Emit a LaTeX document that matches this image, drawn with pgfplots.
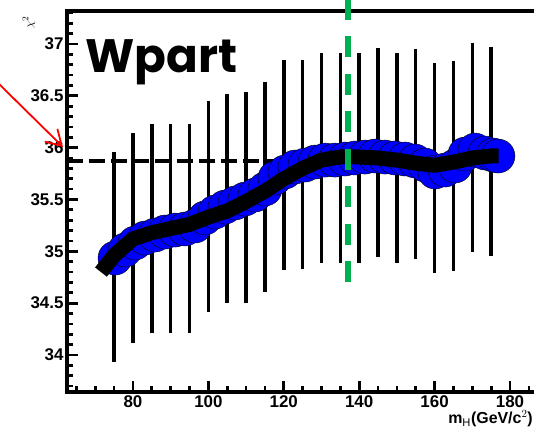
\documentclass[border=0pt]{standalone}
\usepackage{fontspec}
\setmainfont{Liberation Sans}
\newfontfamily\popfont{Poppins}
\usepackage{pgfplots}
\usepackage{pgfplotstable}
\pgfplotsset{compat=1.18}
\usetikzlibrary{arrows.meta}
\definecolor{rootgreen}{RGB}{0,176,80}

\pgfplotstableread{
x lo hi
75 33.937 35.958
80 34.111 36.141
85 34.212 36.228
90 34.212 36.228
95 34.212 36.228
100 34.415 36.449
105 34.501 36.517
110 34.501 36.536
115 34.608 36.632
120 34.820 36.844
125 34.825 36.850
130 34.887 36.912
135 34.887 36.912
140 34.887 36.912
145 34.945 36.960
150 34.887 36.912
155 34.926 36.951
160 34.791 36.816
165 34.810 36.835
170 34.993 37.009
175 34.955 36.970
}\tabbars

\pgfplotstableread{
x y
75.23 34.935
77.88 35.013
80.54 35.080
83.19 35.128
85.84 35.157
88.49 35.186
91.15 35.205
93.80 35.215
96.45 35.244
99.10 35.322
101.76 35.379
104.41 35.427
107.06 35.466
109.71 35.504
112.37 35.543
115.02 35.601
117.67 35.707
120.32 35.765
122.98 35.813
125.63 35.832
128.28 35.861
130.93 35.880
133.59 35.880
136.24 35.890
138.89 35.900
141.54 35.909
144.20 35.919
146.85 35.909
149.50 35.900
152.15 35.890
154.81 35.871
157.46 35.832
160.11 35.765
162.76 35.784
165.42 35.823
168.07 35.938
170.72 35.977
173.37 35.948
175.50 35.929
176.80 35.919
}\tabblue

\pgfplotstableread{
x y
71.5 34.80
75 34.96
80 35.12
85 35.18
90 35.22
95 35.26
100 35.33
105 35.39
110 35.48
115 35.58
120 35.70
125 35.80
130 35.88
135 35.91
140 35.91
145 35.90
150 35.88
155 35.85
160 35.83
165 35.86
170 35.90
175 35.92
177 35.92
}\tabcurve

\begin{document}
\begin{tikzpicture}
\begin{axis}[
  scale only axis, width=480.7bp, height=381bp,
  at={(67bp,37bp)}, anchor=south west,
  xmin=62.5, xmax=190, ymin=33.643, ymax=37.318,
  tick pos=left,
  xtick={80,100,...,180},
  ytick={34,34.5,35,35.5,36,36.5,37},
  yticklabels={34,34.5,35,35.5,36,36.5,37},
  minor xtick={65,70,...,190},
  minor ytick={33.7,33.8,...,37.3},
  major tick length=11bp, minor tick length=5.5bp,
  every tick/.style={black, line width=2.7bp},
  axis line style={line width=3.3bp},
  ticklabel style={font=\bfseries\fontsize{17}{17}\selectfont},
  /pgf/number format/assume math mode=true,
  clip=false, clip mode=individual,
]
\draw[black, line width=4.5bp, dash pattern=on 16bp off 6bp] (axis cs:62.5,35.87) -- (axis cs:137,35.87);
\addplot[draw=none, mark=none, forget plot,
  error bars/.cd, y dir=plus, y explicit, error mark=none,
  error bar style={draw=black, line width=3.5bp}]
  table[x=x, y=lo, y error expr=\thisrow{hi}-\thisrow{lo}] {\tabbars};
\addplot[only marks, mark=*, mark size=17bp, mark options={draw=none, fill=blue}] table[x=x,y=y] {\tabblue};
\addplot[black, line width=15bp, line join=round, mark=none] table[x=x,y=y] {\tabcurve};
\draw[rootgreen, line width=6bp, dash pattern=on 21bp off 16.5bp] (axis cs:137,34.70) -- (axis cs:137,37.45);
\draw[red, line width=1.8bp, -{Straight Barb[length=15bp,width=18bp]}] (axis cs:43.4,36.652) -- (axis cs:61.44,36.006);
\node[anchor=base west, inner sep=0pt] at (axis cs:67.27,36.729) {\popfont\bfseries\fontsize{47}{47}\selectfont Wpart};
\node[rotate=90, inner sep=0pt] at (axis cs:52.4,37.21) {\fontsize{13}{13}\selectfont$\chi^{2}$};
\node[anchor=base east, inner sep=0pt] at (axis cs:186.1,33.335) {\bfseries\fontsize{16}{16}\selectfont m$_{\mathrm{H}}$(GeV/c$^{2}$)};
\end{axis}
\pgfresetboundingbox
\path[use as bounding box] (0,0) rectangle (534bp,429bp);
\end{tikzpicture}
\end{document}
